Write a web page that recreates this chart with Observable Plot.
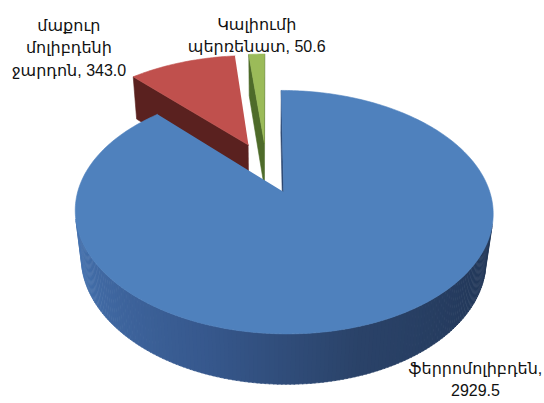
<!DOCTYPE html>
<html>
<head>
<meta charset="utf-8">
<script src="https://cdn.jsdelivr.net/npm/d3@7"></script>
<script src="https://cdn.jsdelivr.net/npm/@observablehq/plot@0.6"></script>
<style>
  html, body { margin: 0; padding: 0; background: #fff; }
  #chart svg { display: block; }
</style>
</head>
<body>
<div id="chart"></div>
<script>
// ---- data ----
const categories = ["ֆերրոմոլիբդեն", "մաքուր\nմոլիբդենի\nջարդոն", "Կալիումի\nպերռենատ"];
const values = [2929.5, 343.0, 50.6];
const topColors = ["#4f81bd", "#c0504d", "#9bbb59"];
const faceColors = ["#2c4770", "#5a211f", "#4e6b2a"];

// ---- 3D pie geometry ----
const W = 544, Hgt = 403;
const deg = Math.PI / 180;
const phi = 33.7 * deg, Dist = 5.2, S = 199, CX = 266, CY = 167, THICK = 0.285, EXPLODE = 0.23;
const cosP = Math.cos(phi), sinP = Math.sin(phi);
const cam = [0, Dist * sinP, -Dist * cosP];

function proj([X, Y, Z]) {
  const yc = Y * cosP + Z * sinP;
  const dc = Z * cosP - Y * sinP;
  const k = 1 / (1 + dc / Dist);
  return [CX + S * X * k, CY - S * yc * k];
}
function facing(n, p) {
  return n[0] * (cam[0] - p[0]) + n[1] * (cam[1] - p[1]) + n[2] * (cam[2] - p[2]) > 0;
}

const wallShade = d3.scaleLinear()
  .domain([0, 0.4, 0.6, 1])
  .range(["#4a7ab8", "#36578c", "#2a4268", "#1f3352"])
  .clamp(true);

const arcs = d3.pie().sort(null).value(d => d)(values);
const slices = arcs.map((a, i) => {
  const mid = (a.startAngle + a.endAngle) / 2;
  return { i, a, mid, ox: EXPLODE * Math.sin(mid), oz: EXPLODE * Math.cos(mid) };
});

const rows = [];
let pid = 0;
function addPoly(pts3, fill) {
  const id = pid++;
  for (const p of pts3) {
    const [x, y] = proj(p);
    rows.push({ id, x, y, fill });
  }
}

const order = slices.slice().sort((p, q) => q.oz - p.oz);
for (const s of order) {
  const { ox, oz } = s;
  const rim = (t, y) => [ox + Math.sin(t), y, oz + Math.cos(t)];
  const ctr = y => [ox, y, oz];
  // radial faces
  const faces = [
    { t: s.a.startAngle, n: [-Math.cos(s.a.startAngle), 0, Math.sin(s.a.startAngle)] },
    { t: s.a.endAngle, n: [Math.cos(s.a.endAngle), 0, -Math.sin(s.a.endAngle)] }
  ];
  for (const f of faces) {
    const pm = [ox + 0.5 * Math.sin(f.t), -THICK / 2, oz + 0.5 * Math.cos(f.t)];
    if (facing(f.n, pm)) {
      addPoly([ctr(0), rim(f.t, 0), rim(f.t, -THICK), ctr(-THICK)], faceColors[s.i]);
    }
  }
  // outer wall
  const step = 1 * deg;
  for (let t = s.a.startAngle; t < s.a.endAngle - 1e-9; t += step) {
    const t2 = Math.min(t + step, s.a.endAngle);
    const tm = (t + t2) / 2;
    const n = [Math.sin(tm), 0, Math.cos(tm)];
    const pm = [ox + n[0], -THICK / 2, oz + n[2]];
    if (!facing(n, pm)) continue;
    let fill;
    if (s.i === 0) {
      const tt = (270 * deg - tm) / (180 * deg);
      fill = wallShade(tt);
    } else {
      fill = faceColors[s.i];
    }
    addPoly([rim(t, 0), rim(t2 + 0.004, 0), rim(t2 + 0.004, -THICK), rim(t, -THICK)], fill);
  }
  // top face
  const top = [ctr(0)];
  const n = Math.max(2, Math.ceil((s.a.endAngle - s.a.startAngle) / deg));
  for (let j = 0; j <= n; j++) {
    const t = s.a.startAngle + (s.a.endAngle - s.a.startAngle) * j / n;
    top.push(rim(t, 0));
  }
  addPoly(top, topColors[s.i]);
}

// ---- labels (anchored at each slice's outer rim, at its bisector) ----
const labelOffsets = [[100, 35.5], [-113, -47.5], [0, -40.5]];
const labels = slices.map(s => {
  const [x, y] = proj([s.ox + Math.sin(s.mid), 0, s.oz + Math.cos(s.mid)]);
  const cat = categories[s.i];
  const sep = cat.includes("\n") ? ", " : ",\n";
  return {
    x: x + labelOffsets[s.i][0],
    y: y + labelOffsets[s.i][1],
    text: cat + sep + values[s.i].toFixed(1)
  };
});

const chart = Plot.plot({
  width: W,
  height: Hgt,
  margin: 0,
  x: { domain: [0, W], range: [0, W], axis: null },
  y: { domain: [0, Hgt], range: [0, Hgt], axis: null },
  color: { type: "identity" },
  style: { background: "#fff" },
  marks: [
    Plot.line(rows, { x: "x", y: "y", z: "id", fill: "fill", stroke: "fill", strokeWidth: 0.6, curve: "linear" }),
    Plot.text(labels, {
      x: "x", y: "y", text: "text",
      fontSize: 16, lineHeight: 1.4, lineAnchor: "top", textAnchor: "middle",
      fill: "#111", fontFamily: "'Liberation Sans', 'DejaVu Sans', Arial, sans-serif"
    })
  ]
});
document.getElementById("chart").appendChild(chart);
</script>
</body>
</html>
